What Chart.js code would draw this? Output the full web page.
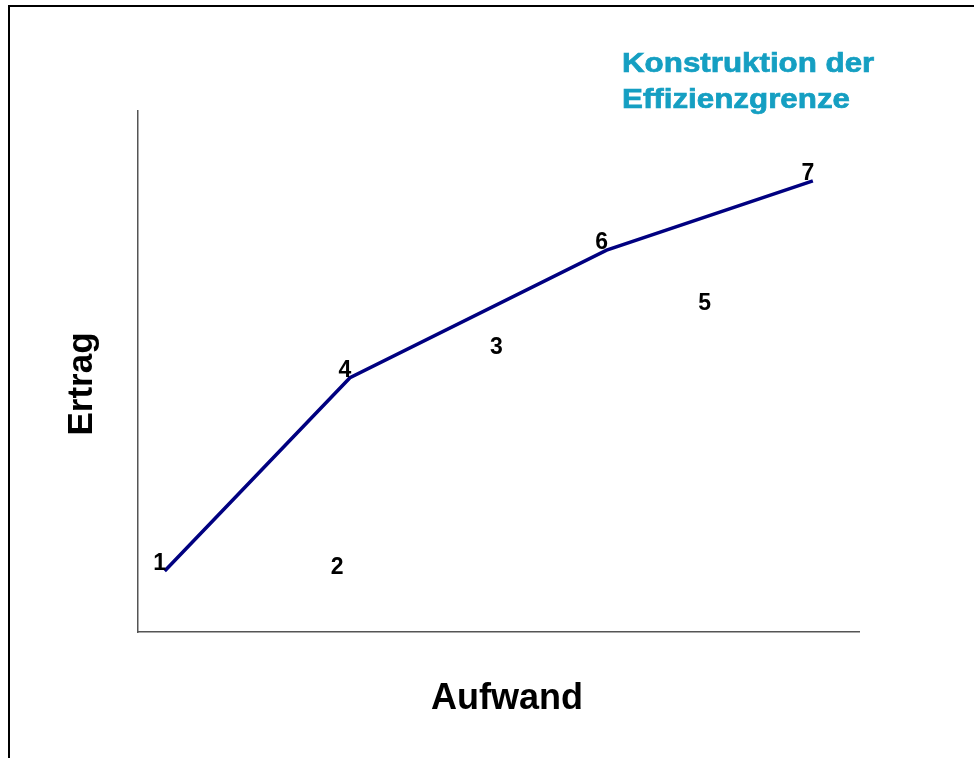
<!DOCTYPE html>
<html>
<head>
<meta charset="utf-8">
<script src="https://cdn.jsdelivr.net/npm/chart.js@4"></script>
<style>
  body { margin: 0; background: #fff; }
  #wrap { position: relative; width: 974px; height: 758px; }
  #rahmen { position: absolute; left: 8px; top: 5px; width: 964px; height: 800px;
            border-left: 2px solid #000; border-top: 2px solid #000; pointer-events: none; }
</style>
</head>
<body>
<div id="wrap">
  <canvas id="chart" width="974" height="758"></canvas>
  <div id="rahmen"></div>
</div>
<script>
// Punkte (Aufwand / Ertrag)
var punktNr = ['1', '2', '3', '4', '5', '6', '7']
var aufwand = [0.37, 2.83, 5.04, 2.94, 7.93, 6.50, 9.36]
var ertrag  = [1.17, 1.11, 5.32, 4.88, 6.16, 7.33, 8.66]
// effiziente Punkte, in der Reihenfolge der Grenze
var grenze = ['1', '4', '6', '7']
var titelZeilen = ['Konstruktion der', 'Effizienzgrenze']

var punkte = punktNr.map(function(p, i){ return {x: aufwand[i], y: ertrag[i]} })
var grenzPunkte = grenze.map(function(p){
    var i = punktNr.indexOf(p)
    return {x: aufwand[i], y: ertrag[i]}
})

var beschriftung = {
    id: 'beschriftung',
    afterDatasetsDraw: function(chart){
        var ctx = chart.ctx
        var meta = chart.getDatasetMeta(1)
        ctx.save()
        ctx.fillStyle = '#000'
        ctx.font = 'bold 23px "Liberation Sans", Arial, sans-serif'
        ctx.textAlign = 'center'
        ctx.textBaseline = 'middle'
        meta.data.forEach(function(el, i){
            ctx.fillText(punktNr[i], el.x - 5, el.y - 7)
        })
        ctx.restore()
    },
    afterDraw: function(chart){
        var ctx = chart.ctx
        var ca = chart.chartArea
        ctx.save()
        // Titel oben rechts
        ctx.fillStyle = '#159fc2'
        ctx.strokeStyle = '#159fc2'
        ctx.lineWidth = 0.7
        ctx.font = 'bold 27px "Liberation Sans", Arial, sans-serif'
        ctx.textAlign = 'left'
        ctx.textBaseline = 'alphabetic'
        titelZeilen.forEach(function(z, i){
            ctx.save()
            ctx.translate(622, 72 + i * 36)
            ctx.scale(1.16, 1)
            ctx.fillText(z, 0, 0)
            ctx.strokeText(z, 0, 0)
            ctx.restore()
        })
        // Achsentitel
        ctx.fillStyle = '#000'
        ctx.font = 'bold 36px "Liberation Sans", Arial, sans-serif'
        ctx.textAlign = 'center'
        ctx.fillText('Aufwand', ca.left + 369, ca.bottom + 77)
        ctx.save()
        ctx.translate(ca.left - 46, ca.top + 273)
        ctx.rotate(-Math.PI / 2)
        ctx.font = 'bold 35px "Liberation Sans", Arial, sans-serif'
        ctx.fillText('Ertrag', 0, 0)
        ctx.restore()
        ctx.restore()
    }
}

new Chart(document.getElementById('chart'), {
    type: 'scatter',
    data: {
        datasets: [{
            data: grenzPunkte,
            showLine: true,
            borderColor: '#000080',
            borderWidth: 3.5,
            pointRadius: 0,
            tension: 0
        }, {
            data: punkte,
            showLine: false,
            pointRadius: 0
        }]
    },
    options: {
        responsive: false,
        animation: false,
        layout: {padding: {left: 138, top: 111, right: 115, bottom: 126}},
        scales: {
            x: {type: 'linear', min: 0, max: 10,
                grid: {display: false, drawTicks: false},
                border: {display: true, color: '#555', width: 1.5},
                ticks: {display: false}},
            y: {type: 'linear', min: 0, max: 10,
                grid: {display: false, drawTicks: false},
                border: {display: true, color: '#555', width: 1.5},
                ticks: {display: false}}
        },
        plugins: {legend: {display: false}, tooltip: {enabled: false}, title: {display: false}}
    },
    plugins: [beschriftung]
})
</script>
</body>
</html>
